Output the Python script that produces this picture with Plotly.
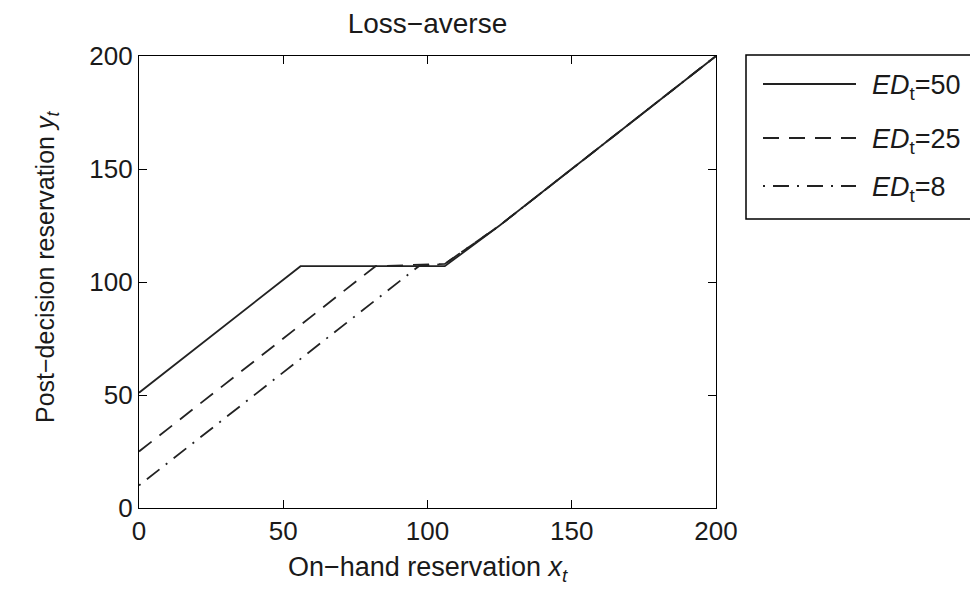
import plotly.graph_objects as go

# Data
title_text = "Loss−averse"
series_names = ["<i>ED</i><sub>t</sub>=50", "<i>ED</i><sub>t</sub>=25", "<i>ED</i><sub>t</sub>=8"]
x_ed50 = [0, 56, 106, 125, 200]
y_ed50 = [51, 107, 107, 125, 200]
x_ed25 = [0, 82, 106, 125, 200]
y_ed25 = [25, 107, 108, 125, 200]
x_ed8 = [0, 97, 106, 125, 200]
y_ed8 = [10, 107, 108, 125, 200]
tick_vals = [0, 50, 100, 150, 200]

dash_styles = ["solid", "16px,10px", "2px,8px,16px,8px"]
line_color = "#222222"
font_family = "Liberation Sans, Arial, Helvetica, sans-serif"

fig = go.Figure()
for xs, ys, name, dash in zip([x_ed50, x_ed25, x_ed8], [y_ed50, y_ed25, y_ed8], series_names, dash_styles):
    fig.add_trace(go.Scatter(x=xs, y=ys, mode="lines", name=name,
                             line=dict(color=line_color, width=1.8, dash=dash),
                             showlegend=False))

# page body has ~7px offset; work in screen coords and convert
OFF = 7
W, H = 970, 587
L = 138 - OFF
T = 55 - OFF
R = W - (715 - OFF)
B = H - (507 - OFF)
pw = W - L - R
ph = H - T - B
def px(p):
    return (p - OFF - L) / pw
def py(p):
    return (H - B - (p - OFF)) / ph

fig.update_layout(
    width=W, height=H,
    margin=dict(l=L, r=R, t=T, b=B),
    plot_bgcolor="white", paper_bgcolor="white",
    font=dict(family=font_family, size=26, color="#1a1a1a"),
    title=dict(text=title_text, x=0.5, xref="paper", y=1 - (22 - OFF) / H, yref="container",
               xanchor="center", yanchor="middle", font=dict(size=28)),
    xaxis=dict(range=[0, 200], tickvals=tick_vals, ticks="inside", ticklen=8,
               tickcolor="black", showline=True, linecolor="black", linewidth=1.3,
               mirror="ticks", showgrid=False, zeroline=False, tickfont=dict(size=26)),
    yaxis=dict(range=[0, 200], tickvals=tick_vals, ticks="inside", ticklen=8,
               tickcolor="black", showline=True, linecolor="black", linewidth=1.3,
               mirror="ticks", showgrid=False, zeroline=False, tickfont=dict(size=26)),
)

annotations = [
    dict(text="On−hand reservation <i>x</i><sub><i>t</i></sub>", x=0.5, y=py(568),
         xref="paper", yref="paper", showarrow=False, xanchor="center", yanchor="middle",
         font=dict(size=27)),
    dict(text="Post−decision reservation <i>y</i><sub><i>t</i></sub>", x=px(46), y=py(266),
         xref="paper", yref="paper", showarrow=False, textangle=-90,
         xanchor="center", yanchor="middle", font=dict(size=25)),
]

# Manual legend box
shapes = [dict(type="rect", xref="paper", yref="paper", x0=px(745), x1=px(992),
               y0=py(218), y1=py(54), line=dict(color="black", width=1.5),
               fillcolor="white", layer="above")]
legend_rows = [83, 137, 185]
for row, name, dash in zip(legend_rows, series_names, dash_styles):
    shapes.append(dict(type="line", xref="paper", yref="paper", x0=px(762), x1=px(855),
                       y0=py(row), y1=py(row), line=dict(color=line_color, width=1.8, dash=dash)))
    annotations.append(dict(text=name, x=px(869), y=py(row + 3), xref="paper", yref="paper",
                            showarrow=False, xanchor="left", yanchor="middle",
                            font=dict(size=27)))

fig.update_layout(shapes=shapes, annotations=annotations)
fig.write_html("out.html")
